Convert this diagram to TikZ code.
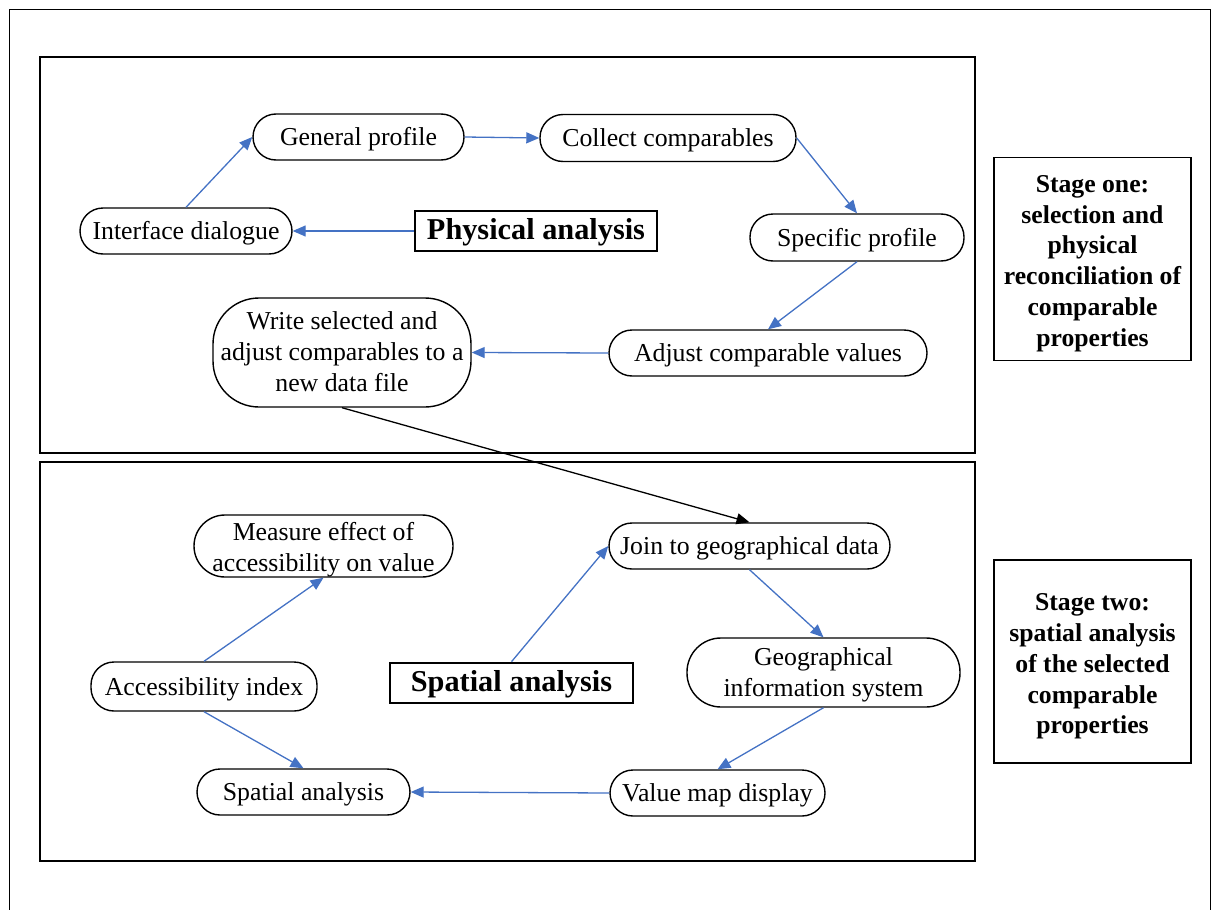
\documentclass[tikz,border=0pt]{standalone}
\usepackage{fontspec}
\setmainfont{Liberation Serif}
\usetikzlibrary{arrows.meta}
\definecolor{flowblue}{HTML}{4472C4}
\tikzset{
  txt/.style={font=\fontsize{25.8}{31}\selectfont, align=center, inner sep=0pt},
  rnd/.style={txt, draw, line width=1.4pt, rounded corners=#1},
  rnd/.default=23pt,
  oneline/.style={text height=20pt, text depth=2.6pt},
  titlebox/.style={draw, line width=2.6pt, inner sep=0pt,
    font=\fontsize{30.3}{34}\selectfont\bfseries, align=center,
    text height=20pt, text depth=3.4pt},
  stagebox/.style={draw, line width=1.3pt, inner sep=0pt,
    font=\fontsize{25.7}{30.8}\selectfont\bfseries, align=center},
  panel/.style={draw, line width=1.3pt},
  flow/.style={draw=flowblue, line width=1.3pt,
    -{Triangle[length=13pt,width=11pt]}},
  link/.style={draw=black, line width=1.3pt,
    -{Triangle[length=13pt,width=11pt]}}
}
\begin{document}
\begin{tikzpicture}[x=1pt, y=-1pt]
  \useasboundingbox (0,0) rectangle (1216,910);
  % outer frame and the two stage panels
  \draw[line width=1pt] (9.5,920) -- (9.5,9.5) -- (1210,9.5) -- (1210,920);
  \draw[panel] (40,57) rectangle (975,453);
  \draw[panel] (40,462) rectangle (975,861);

  % stage descriptions
  \node[stagebox, minimum width=197pt, minimum height=203pt,
        text height=176pt, text depth=1.6pt] (s1) at (1092.5,259)
    {Stage one:\\selection and\\physical\\reconciliation of\\comparable\\properties};
  \node[stagebox, minimum width=197pt, minimum height=203pt,
        text height=146pt, text depth=1.4pt] (s2) at (1092.5,661.5)
    {Stage two:\\spatial analysis\\of the selected\\comparable\\properties};

  % stage one: physical analysis
  \node[titlebox, minimum width=242pt, minimum height=40pt] (phys) at (536,231) {Physical analysis};
  \node[rnd, oneline, minimum width=212pt, minimum height=46pt] (ifd) at (186,231) {Interface dialogue};
  \node[rnd, oneline, minimum width=211pt, minimum height=46pt] (gen) at (358.5,137) {General profile};
  \node[rnd, oneline, minimum width=256pt, minimum height=47pt] (col) at (668,138) {Collect comparables};
  \node[rnd, oneline, minimum width=214pt, minimum height=47pt] (spec) at (857,237.5) {Specific profile};
  \node[rnd, oneline, minimum width=318pt, minimum height=46pt] (adj) at (768,353) {Adjust comparable values};
  \node[rnd=46pt, minimum width=258pt, minimum height=109pt,
        text height=80pt, text depth=1.6pt] (write) at (342,352.5)
    {Write selected and\\adjust comparables to a\\new data file};

  \path[flow] (phys.west) -- (ifd.east);
  \path[flow] (ifd.north) -- (gen.west);
  \path[flow] (gen.east) -- (col.west);
  \path[flow] (col.east) -- (spec.north);
  \path[flow] (spec.south) -- (adj.north);
  \path[flow] (adj.west) -- (write.east);

  % stage two: spatial analysis
  \node[titlebox, minimum width=243pt, minimum height=40pt] (spat) at (511.5,683) {Spatial analysis};
  \node[rnd, oneline, minimum width=281pt, minimum height=46pt] (join) at (749.5,546) {Join to geographical data};
  \node[rnd=34pt, minimum width=273pt, minimum height=69pt,
        text height=50pt, text depth=1.6pt] (gis) at (823.5,672.5)
    {Geographical\\information system};
  \node[rnd, oneline, minimum width=215pt, minimum height=46pt] (vmap) at (717.5,793) {Value map display};
  \node[rnd, oneline, minimum width=213pt, minimum height=46pt] (san) at (303.5,792) {Spatial analysis};
  \node[rnd, oneline, minimum width=226pt, minimum height=49pt] (acc) at (204,686.5) {Accessibility index};
  \node[rnd=31pt, minimum width=259pt, minimum height=62pt,
        text height=51.6pt, text depth=1.6pt] (meas) at (323.5,546)
    {Measure effect of\\accessibility on value};

  \path[link] (write.south) -- (join.north);
  \path[flow] (spat.north) -- (join.west);
  \path[flow] (join.south) -- (gis.north);
  \path[flow] (gis.south) -- (vmap.north);
  \path[flow] (vmap.west) -- (san.east);
  \path[flow] (acc.north) -- (meas.south);
  \path[flow] (acc.south) -- (san.north);
\end{tikzpicture}
\end{document}
